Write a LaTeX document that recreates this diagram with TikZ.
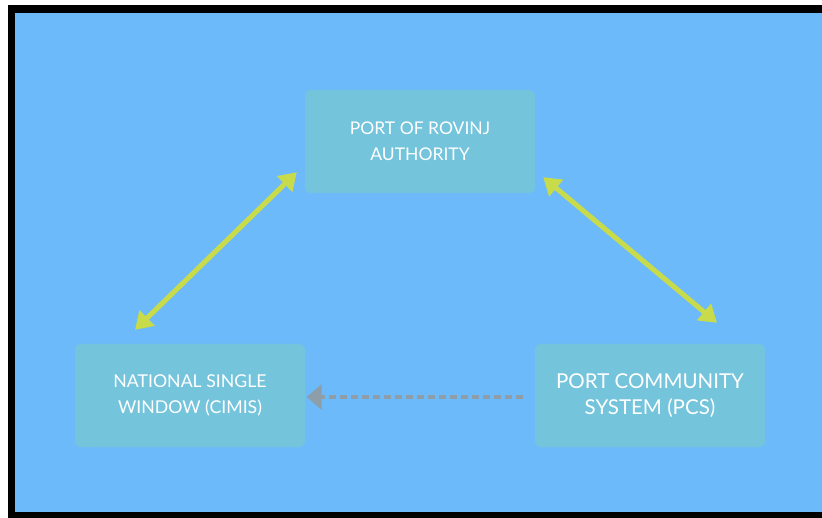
\documentclass[tikz,border=0pt]{standalone}
\usepackage{fontspec}
\newfontfamily\lato{Lato}
\usetikzlibrary{arrows.meta,positioning}
\definecolor{skyblue}{HTML}{6CBAF9}
\definecolor{boxteal}{HTML}{74C4DC}
\definecolor{limeline}{HTML}{C8DC4B}
\definecolor{dashgray}{HTML}{8E9EA9}
\begin{document}
\begin{tikzpicture}[x=1pt,y=-1pt,
    party/.style={fill=boxteal, rounded corners=6pt, minimum width=230pt,
        minimum height=103pt, text=white, align=center, inner sep=0pt},
    link/.style={limeline, line width=5pt,
        {Triangle[length=17pt,width=21pt]}-{Triangle[length=17pt,width=21pt]}},
    feed/.style={dashgray, line width=4pt, dash pattern=on 7pt off 4pt,
        -{Triangle[length=15pt,width=25pt]}}]
\useasboundingbox (0,0) rectangle (822,518);
\fill[white] (0,0) rectangle (822,518);
\fill[black] (7.5,5) rectangle (822,518);
\fill[skyblue] (15,13) rectangle (822,512);
% the three parties
\node[party, font=\lato\fontsize{17.5}{26}\selectfont] (pra) at (420,141.5)
    {PORT OF ROVINJ\\AUTHORITY};
\node[party, font=\lato\fontsize{17.7}{26}\selectfont] (nsw) at (190,395.5)
    {NATIONAL SINGLE\\WINDOW (CIMIS)};
\node[party, font=\lato\fontsize{20.5}{26}\selectfont] (pcs) at (650,395.5)
    {PORT COMMUNITY\\SYSTEM (PCS)};
% arrow ends
\coordinate (nswtip) at ([xshift=-55pt,yshift=14pt]nsw.north);
\coordinate (prawest) at ([xshift=-8pt,yshift=21pt]pra.south west);
\coordinate (praeast) at ([xshift=8pt,yshift=16pt]pra.south east);
\coordinate (pcstip) at ([xshift=67pt,yshift=21pt]pcs.north);
\coordinate (pcsout) at ([xshift=-12pt,yshift=-1.5pt]pcs.west);
\draw[link] (nswtip) -- (prawest);
\draw[link] (praeast) -- (pcstip);
\draw[feed] (pcsout) -- ([xshift=1.5pt,yshift=-1.5pt]nsw.east);
\end{tikzpicture}
\end{document}
